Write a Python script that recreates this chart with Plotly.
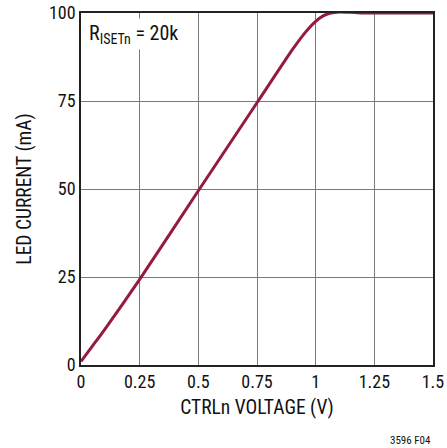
import plotly.graph_objects as go

# CTRLn voltage (V) vs LED current (mA)
ctrl_voltage = [0.0, 0.05, 0.1, 0.25, 0.5, 0.75, 0.9, 0.95, 1.0, 1.03, 1.06, 1.1, 1.15, 1.2, 1.35, 1.5]
led_current = [1.0, 5.5, 10.0, 24.3, 49.5, 74.5, 89.5, 94.0, 97.6, 99.1, 99.9, 100.3, 100.2, 100.0, 100.0, 100.0]

x_ticks = [0, 0.25, 0.5, 0.75, 1, 1.25, 1.5]
x_labels = ["0", "0.25", "0.5", "0.75", "1", "1.25", "1.5"]
y_ticks = [0, 25, 50, 75, 100]

FONT = "Liberation Sans Narrow, Roboto Condensed, Liberation Sans, Arial"

fig = go.Figure()
fig.add_trace(go.Scatter(
    x=ctrl_voltage, y=led_current, mode="lines",
    line=dict(color="#951A3C", width=3, shape="spline", smoothing=0.6),
    showlegend=False, hoverinfo="skip"))

axis_style = dict(showgrid=True, gridcolor="#7a7a7a", gridwidth=1,
                  showline=True, linecolor="#222222", linewidth=1.5, mirror=True,
                  zeroline=False, ticks="", automargin=False,
                  tickfont=dict(size=18, color="#111111"))

fig.update_xaxes(range=[0, 1.5], tickvals=x_ticks, ticktext=x_labels,
                 title=dict(text="CTRLn VOLTAGE (V)", font=dict(size=19.5, color="#111111"), standoff=9),
                 **axis_style)
fig.update_yaxes(range=[0, 100], tickvals=y_ticks,
                 title=dict(text="LED CURRENT (mA)", font=dict(size=19.5, color="#111111"), standoff=12),
                 **axis_style)

fig.add_annotation(xref="paper", yref="paper", x=0.015, y=0.985, xanchor="left", yanchor="top",
                   text="R<sub>ISETn</sub> = 20k", showarrow=False, bgcolor="white",
                   font=dict(size=20, color="#111111", family=FONT), borderpad=2)
fig.add_annotation(xref="paper", yref="paper", x=1.0, y=-0.19, xanchor="right", yanchor="top",
                   text="3596 F04", showarrow=False,
                   font=dict(size=11, color="#111111", family=FONT))

fig.update_layout(width=447, height=448, margin=dict(l=81, r=14, t=13, b=83, autoexpand=False),
                  plot_bgcolor="white", paper_bgcolor="white",
                  font=dict(family=FONT, color="#111111"))

# drop the default page margin so the figure sits at the window's corner
fig.write_html("out.html", config={"displayModeBar": False},
               post_script="document.body.style.margin='0';document.body.style.padding='0';")
